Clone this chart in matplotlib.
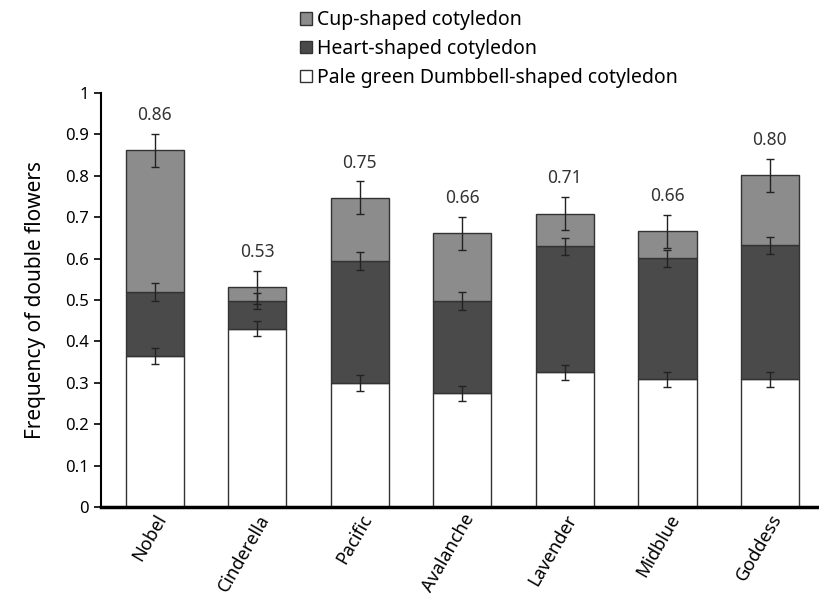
import numpy as np
import matplotlib
matplotlib.use('Agg')
import matplotlib.pyplot as plt

plt.rcParams['font.family'] = ['Noto Sans', 'DejaVu Sans']

cultivars = ['Nobel', 'Cinderella', 'Pacific', 'Avalanche', 'Lavender', 'Midblue', 'Goddess']
pale = [0.365, 0.431, 0.300, 0.275, 0.325, 0.308, 0.308]       # pale green dumbbell-shaped
heart = [0.154, 0.067, 0.294, 0.223, 0.305, 0.293, 0.324]      # heart-shaped
cup = [0.343, 0.033, 0.153, 0.163, 0.079, 0.065, 0.169]        # cup-shaped
pale_err = [0.019, 0.018, 0.019, 0.018, 0.019, 0.019, 0.019]
heart_err = [0.021, 0.020, 0.021, 0.021, 0.021, 0.021, 0.021]
cup_err = [0.040, 0.040, 0.040, 0.040, 0.040, 0.040, 0.040]
totals = ['0.86', '0.53', '0.75', '0.66', '0.71', '0.66', '0.80']

x = np.arange(len(cultivars))
pale = np.array(pale)
heart = np.array(heart)
cup = np.array(cup)
w = 0.57

fig = plt.figure(figsize=(8.19, 5.97), dpi=100)
ax = fig.add_axes([0.123, 0.1508, 0.877, 0.6933])

ekw = dict(ecolor='#222222', elinewidth=1, capsize=3, capthick=1)
ax.bar(x, pale, w, color='white', edgecolor='#333333', linewidth=1,
       yerr=pale_err, error_kw=ekw, label='Pale green Dumbbell-shaped cotyledon')
ax.bar(x, heart, w, bottom=pale, color='#4a4a4a', edgecolor='#333333', linewidth=1,
       yerr=heart_err, error_kw=ekw, label='Heart-shaped cotyledon')
ax.bar(x, cup, w, bottom=pale + heart, color='#8c8c8c', edgecolor='#333333', linewidth=1,
       yerr=cup_err, error_kw=ekw, label='Cup-shaped cotyledon')

top = pale + heart + cup
for xi, t, e, s in zip(x, top, cup_err, totals):
    ax.text(xi, t + e + 0.045, s, ha='center', va='center', fontsize=12.5, color='#333333')

ax.set_xlim(-0.527, 6.48)
ax.set_ylim(0, 1)
ax.set_yticks(np.arange(0, 1.01, 0.1))
ax.set_yticklabels(['0'] + ['%.1f' % v for v in np.arange(0.1, 0.95, 0.1)] + ['1'], fontsize=12)
ax.set_xticks(x)
ax.set_xticklabels(cultivars, rotation=60, ha='right', rotation_mode='anchor', fontsize=13)
ax.tick_params(axis='x', length=0, pad=3)
ax.tick_params(axis='y', direction='out', length=5, width=1.2)
ax.set_ylabel('Frequency of double flowers', fontsize=15, labelpad=14)

for side in ['top', 'right']:
    ax.spines[side].set_visible(False)
ax.spines['left'].set_linewidth(1.5)
ax.spines['bottom'].set_linewidth(2.5)

handles, labels = ax.get_legend_handles_labels()
fig.legend(handles[::-1], labels[::-1], loc='upper left', bbox_to_anchor=(0.345, 1.012),
           frameon=False, fontsize=14, handlelength=0.6, handleheight=0.6,
           handletextpad=0.25, labelspacing=0.45)

fig.savefig('out.png', dpi=100)
